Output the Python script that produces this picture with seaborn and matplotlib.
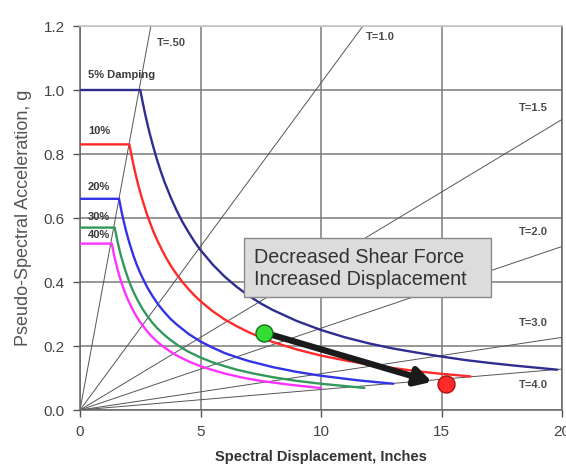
import matplotlib
matplotlib.use("Agg")
import matplotlib.pyplot as plt
import seaborn as sns
import pandas as pd
from matplotlib.patches import Rectangle

# ---------------- data ----------------
d05_x = [0, 2.5, 2.6, 2.7, 2.8, 2.9, 3.05, 3.2, 3.35, 3.5, 3.75, 4.0, 4.25, 4.5, 4.75, 5.0, 5.5, 6.0, 6.5, 7.0, 7.5, 8.0, 9.0, 10.0, 11.0, 12.0, 13.0, 14.0, 15.0, 16.0, 17.0, 18.0, 19.8]
d05_y = [1.0, 1.0, 0.962, 0.926, 0.893, 0.862, 0.820, 0.781, 0.746, 0.714, 0.667, 0.625, 0.588, 0.556, 0.526, 0.50, 0.455, 0.417, 0.385, 0.357, 0.333, 0.3125, 0.278, 0.25, 0.227, 0.208, 0.192, 0.179, 0.167, 0.156, 0.147, 0.139, 0.126]

d10_x = [0, 2.05, 2.12, 2.2, 2.3, 2.4, 2.5, 2.6, 2.75, 2.9, 3.05, 3.2, 3.4, 3.6, 3.8, 4.0, 4.25, 4.5, 4.75, 5.0, 5.5, 6.0, 6.5, 7.0, 7.5, 8.0, 9.0, 10.0, 11.0, 12.0, 13.0, 14.0, 15.0, 16.2]
d10_y = [0.83, 0.83, 0.802, 0.773, 0.739, 0.708, 0.68, 0.654, 0.618, 0.586, 0.557, 0.531, 0.50, 0.472, 0.447, 0.425, 0.40, 0.378, 0.358, 0.34, 0.309, 0.283, 0.262, 0.243, 0.227, 0.2125, 0.189, 0.17, 0.155, 0.142, 0.131, 0.121, 0.113, 0.105]

d20_x = [0, 1.62, 1.68, 1.75, 1.82, 1.9, 2.0, 2.1, 2.22, 2.35, 2.5, 2.6, 2.8, 3.0, 3.25, 3.5, 3.75, 4.0, 4.5, 5.0, 5.5, 6.0, 6.5, 7.0, 8.0, 9.0, 10.0, 11.5, 13.0]
d20_y = [0.66, 0.66, 0.637, 0.611, 0.588, 0.563, 0.535, 0.51, 0.482, 0.455, 0.428, 0.412, 0.382, 0.357, 0.329, 0.306, 0.285, 0.268, 0.238, 0.214, 0.195, 0.178, 0.165, 0.153, 0.134, 0.119, 0.107, 0.093, 0.082]

d30_x = [0, 1.44, 1.5, 1.55, 1.62, 1.7, 1.8, 1.9, 2.0, 2.1, 2.25, 2.4, 2.6, 2.8, 3.0, 3.2, 3.45, 3.7, 4.1, 4.5, 5.0, 5.5, 6.0, 6.5, 7.2, 8.0, 9.0, 10.0, 11.8]
d30_y = [0.57, 0.57, 0.547, 0.529, 0.506, 0.482, 0.456, 0.432, 0.41, 0.39, 0.364, 0.342, 0.315, 0.293, 0.273, 0.256, 0.238, 0.222, 0.20, 0.182, 0.164, 0.149, 0.137, 0.126, 0.114, 0.1025, 0.091, 0.082, 0.069]

d40_x = [0, 1.32, 1.37, 1.42, 1.48, 1.55, 1.63, 1.72, 1.8, 1.9, 2.0, 2.15, 2.3, 2.5, 2.7, 2.9, 3.15, 3.4, 3.7, 4.0, 4.5, 5.0, 5.5, 6.0, 6.75, 7.5, 8.7, 10.0]
d40_y = [0.52, 0.52, 0.50, 0.482, 0.463, 0.442, 0.42, 0.398, 0.381, 0.361, 0.343, 0.319, 0.298, 0.274, 0.254, 0.236, 0.217, 0.201, 0.185, 0.171, 0.152, 0.137, 0.125, 0.114, 0.101, 0.091, 0.079, 0.0685]

damping_labels = ["5% Damping", "10%", "20%", "30%", "40%"]
damping_label_y = [1.047, 0.872, 0.697, 0.603, 0.547]

period_labels = ["T=.50", "T=1.0", "T=1.5", "T=2.0", "T=3.0", "T=4.0"]
period_end_x = [2.94, 11.74, 20.0, 20.0, 20.0, 20.0]
period_end_y = [1.2, 1.2, 0.908, 0.511, 0.227, 0.128]
period_label_x = [3.2, 11.85, 18.2, 18.2, 18.2, 18.2]
period_label_y = [1.147, 1.166, 0.944, 0.556, 0.272, 0.078]

start_pt = (7.65, 0.2416)
end_pt = (15.2, 0.081)
arrow_head = (14.6, 0.088)

x_ticks = [0, 5, 10, 15, 20]
y_ticks = [0.0, 0.2, 0.4, 0.6, 0.8, 1.0, 1.2]
y_tick_labels = ["0.0", "0.2", "0.4", "0.6", "0.8", "1.0", "1.2"]

box_text = "Decreased Shear Force\nIncreased Displacement"

# ---------------- plot ----------------
sns.set_theme(style="white")
plt.rcParams['font.family'] = ['Liberation Sans', 'DejaVu Sans']

fig = plt.figure(figsize=(5.66, 4.76), dpi=100)
ax = fig.add_axes([80/566, 66/476, 482/566, 384/476])
ax.set_facecolor("white")

# grid
for xv in x_ticks:
    ax.axvline(xv, color="#7a7a7a", lw=1.1, zorder=1)
for yv in y_ticks:
    ax.axhline(yv, color="#7a7a7a", lw=1.1, zorder=1)

# period lines
for ex, ey in zip(period_end_x, period_end_y):
    sns.lineplot(x=[0, ex], y=[0, ey], ax=ax, color="#555555", lw=0.7,
                 estimator=None, sort=False, zorder=2)

series = [
    (d05_x, d05_y, "#2e2e90"),
    (d10_x, d10_y, "#ff2a2a"),
    (d20_x, d20_y, "#3333e6"),
    (d30_x, d30_y, "#33995a"),
    (d40_x, d40_y, "#ff33ff"),
]
for xs, ys, c in series:
    df = pd.DataFrame({"Sd": xs, "Sa": ys})
    sns.lineplot(data=df, x="Sd", y="Sa", ax=ax, color=c, lw=1.7,
                 estimator=None, sort=False, zorder=3)

# labels
for lab, yv in zip(damping_labels, damping_label_y):
    ax.text(0.33, yv, lab, fontsize=8, fontweight="bold", color="#3a3a3a",
            va="center", ha="left", zorder=5)
for lab, lx, ly in zip(period_labels, period_label_x, period_label_y):
    ax.text(lx, ly, lab, fontsize=8, fontweight="bold", color="#4a4a4a",
            va="center", ha="left", zorder=5)

# annotation box
ax.add_patch(Rectangle((6.82, 0.353), 10.22, 0.1845, facecolor="#dcdcdc",
                       edgecolor="#8a8a8a", lw=1.0, zorder=6))
ax.text(7.24, 0.443, box_text, fontsize=14.2, color="#333333", va="center",
        ha="left", linespacing=1.2, zorder=7)

# arrow and dots
ax.annotate("", xy=arrow_head, xytext=start_pt,
            arrowprops=dict(arrowstyle="-|>,head_length=0.8,head_width=0.45",
                            color="#1a1a1a", lw=4.5, shrinkA=0, shrinkB=0),
            zorder=8)
sns.scatterplot(x=[start_pt[0]], y=[start_pt[1]], ax=ax, color="#33dd33",
                s=150, edgecolor="#1a6a1a", linewidth=1, zorder=9)
sns.scatterplot(x=[end_pt[0]], y=[end_pt[1]], ax=ax, color="#ff2a2a",
                s=150, edgecolor="#aa1111", linewidth=1, zorder=7)

ax.set_xlim(0, 20)
ax.set_ylim(0, 1.2)
ax.set_xticks(x_ticks)
ax.set_yticks(y_ticks)
ax.set_yticklabels(y_tick_labels)
ax.tick_params(axis="both", direction="out", length=5, width=1, color="#555555",
               labelsize=11, labelcolor="#444444", pad=6, left=True, bottom=True)
for s in ["left", "bottom", "right"]:
    ax.spines[s].set_color("#666666")
    ax.spines[s].set_linewidth(1.1)
ax.spines["top"].set_color("#c8c8c8")

ax.set_xlabel("Spectral Displacement, Inches", fontsize=10.5, fontweight="bold",
              color="#333333", labelpad=8)
ax.set_ylabel("Pseudo-Spectral Acceleration, g", fontsize=13, color="#555555",
              labelpad=8)

fig.savefig("out.png", dpi=100, facecolor="white")
